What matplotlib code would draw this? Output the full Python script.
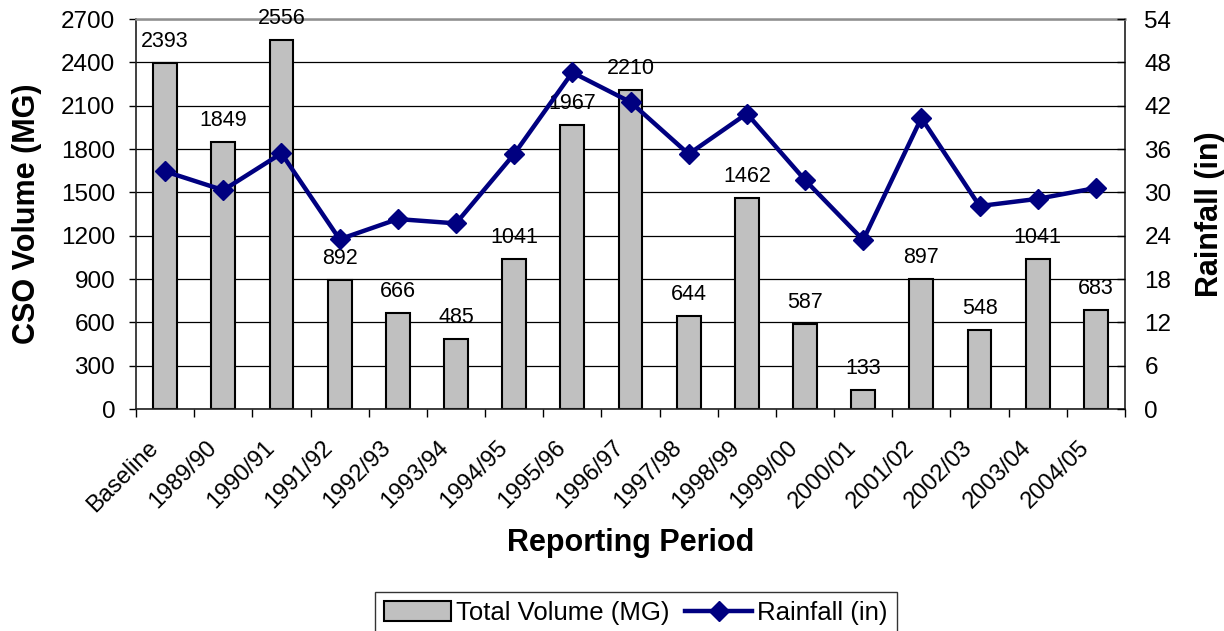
import matplotlib
matplotlib.use("Agg")
import matplotlib.pyplot as plt
from matplotlib.patches import Patch
from matplotlib.lines import Line2D
from matplotlib.transforms import ScaledTranslation
import numpy as np

plt.rcParams['font.family'] = ['Liberation Sans', 'DejaVu Sans']

periods = ["Baseline", "1989/90", "1990/91", "1991/92", "1992/93", "1993/94",
           "1994/95", "1995/96", "1996/97", "1997/98", "1998/99", "1999/00",
           "2000/01", "2001/02", "2002/03", "2003/04", "2004/05"]
volume_mg = [2393, 1849, 2556, 892, 666, 485, 1041, 1967, 2210, 644, 1462,
             587, 133, 897, 548, 1041, 683]
rainfall_in = [32.9, 30.3, 35.4, 23.5, 26.3, 25.7, 35.3, 46.6, 42.5, 35.3,
               40.9, 31.7, 23.4, 40.3, 28.1, 29.1, 30.6]
left_ticks = [0, 300, 600, 900, 1200, 1500, 1800, 2100, 2400, 2700]
right_ticks = [0, 6, 12, 18, 24, 30, 36, 42, 48, 54]

fig = plt.figure(figsize=(12.24, 6.31), dpi=100)
ax = fig.add_axes([136/1224, 1-409/631, (1125-136)/1224, (409-19)/631])
x = np.arange(len(periods))

ax.bar(x, volume_mg, width=0.41, color='#C0C0C0', edgecolor='black',
       linewidth=1.5, zorder=2)
for xi, v in zip(x, volume_mg):
    ax.annotate(str(v), (xi, v), xytext=(0, 8), textcoords='offset points',
                ha='center', va='bottom', fontsize=15.5, zorder=3)

ax.set_xlim(-0.5, len(periods) - 0.5)
ax.set_ylim(0, 2700)
ax.set_yticks(left_ticks)
ax.tick_params(axis='y', labelsize=17.5, direction='out', length=5, width=1,
               pad=10)
ax.yaxis.grid(True, color='black', linewidth=0.9, zorder=1)
ax.set_axisbelow(True)

ax.set_xticks(x)
ax.set_xticklabels(periods, rotation=45, ha='right', rotation_mode='anchor',
                   fontsize=17)
ax.tick_params(axis='x', which='major', length=0, pad=20)
shift = ScaledTranslation(-18/100, 0, fig.dpi_scale_trans)
for lbl in ax.get_xticklabels():
    lbl.set_transform(lbl.get_transform() + shift)
ax.set_xticks(np.arange(-0.5, len(periods), 1), minor=True)
ax.tick_params(axis='x', which='minor', direction='out', length=6, width=1)

for s in ['left', 'bottom', 'right']:
    ax.spines[s].set_color('#202020')
    ax.spines[s].set_linewidth(1.2)
ax.spines['top'].set_color('#909090')
ax.spines['top'].set_linewidth(1.8)

ax2 = ax.twinx()
ax2.plot(x, rainfall_in, color='#000080', linewidth=3.2, marker='D',
         markersize=10.5, zorder=4)
ax2.set_ylim(0, 54)
ax2.set_yticks(right_ticks)
ax2.tick_params(axis='y', labelsize=17.5, direction='in', length=6, width=1,
                pad=14)
for s in ax2.spines.values():
    s.set_visible(False)

fig.text(27/1224, 1-214/631, "CSO Volume (MG)", rotation=90, ha='center',
         va='center', fontsize=22, fontweight='bold')
fig.text(1210/1224, 1-214/631, "Rainfall (in)", rotation=90, ha='center',
         va='center', fontsize=22, fontweight='bold')
fig.text(631/1224, 1-543/631, "Reporting Period", ha='center', va='center',
         fontsize=22, fontweight='bold')

handles = [Patch(facecolor='#C0C0C0', edgecolor='black', linewidth=1.5),
           Line2D([], [], color='#000080', linewidth=3.2, marker='D',
                  markersize=10.5)]
leg = fig.legend(handles, ["Total Volume (MG)", "Rainfall (in)"],
                 loc='lower center', bbox_to_anchor=(636/1224, -0.025),
                 ncol=2, fontsize=18.5, frameon=True, fancybox=False,
                 edgecolor='black', handlelength=2.6, handletextpad=0.2,
                 columnspacing=0.6, borderpad=0.35, handleheight=0.8)
leg.get_frame().set_linewidth(1.0)

fig.savefig("out.png", dpi=100)
